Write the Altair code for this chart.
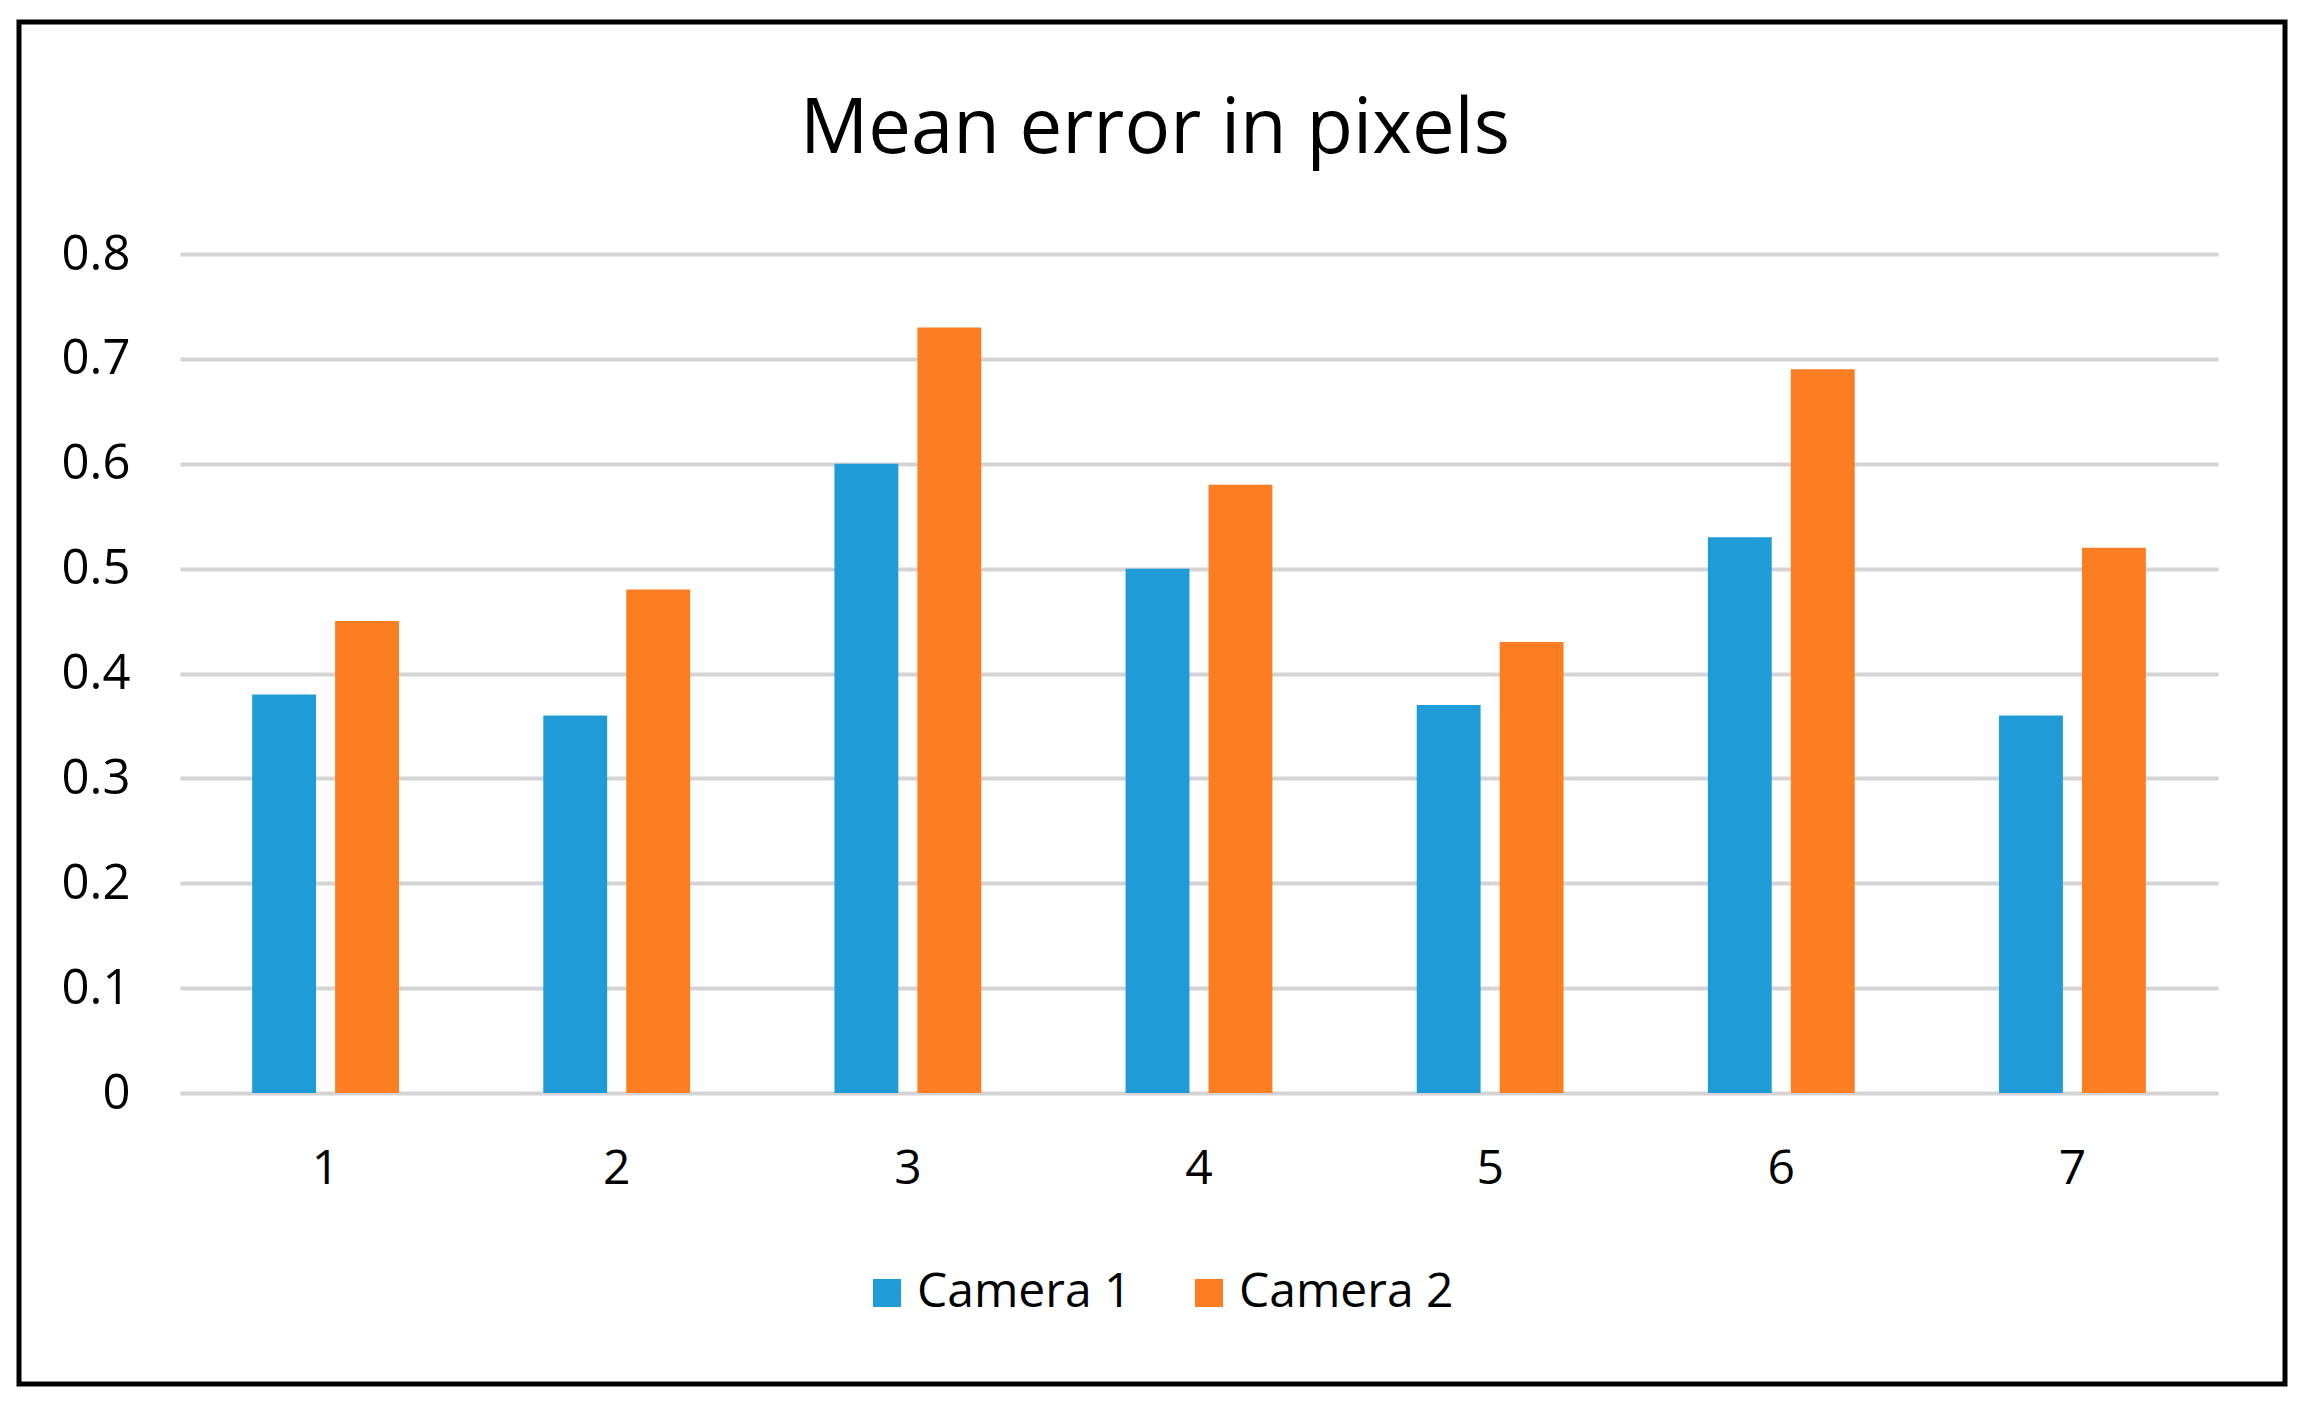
import altair as alt
import pandas as pd

categories = ["1", "2", "3", "4", "5", "6", "7"]
camera1 = [0.38, 0.36, 0.60, 0.50, 0.37, 0.53, 0.36]
camera2 = [0.45, 0.48, 0.73, 0.58, 0.43, 0.69, 0.52]
series_names = ["Camera 1", "Camera 2"]
series_colors = ["#1f9bd7", "#fd7d23"]
y_ticks = [0, 0.1, 0.2, 0.3, 0.4, 0.5, 0.6, 0.7, 0.8]
TITLE = "Mean error in pixels"

rows = []
for i, c in enumerate(categories):
    rows.append({"cat": c, "series": series_names[0], "value": camera1[i]})
    rows.append({"cat": c, "series": series_names[1], "value": camera2[i]})
df = pd.DataFrame(rows)

FONT = "Open Sans"
W, H = 2038, 839

bars = alt.Chart(df).mark_bar().encode(
    x=alt.X("cat:N", sort=categories, title=None,
            scale=alt.Scale(paddingInner=0, paddingOuter=0),
            axis=alt.Axis(labelAngle=0, domain=False, ticks=False, grid=False,
                          labelFontSize=48, labelFont=FONT, labelColor="#000000",
                          labelPadding=52)),
    xOffset=alt.XOffset("series:N", sort=series_names,
                        scale=alt.Scale(paddingInner=0.23, paddingOuter=0.87)),
    y=alt.Y("value:Q", title=None,
            scale=alt.Scale(domain=[0, 0.8], nice=False),
            axis=alt.Axis(values=y_ticks, format="~g", domain=False, ticks=False,
                          grid=True, gridColor="#d4d4d4", gridWidth=4,
                          labelFontSize=49, labelFont=FONT, labelColor="#000000",
                          labelPadding=50)),
    color=alt.Color("series:N", sort=series_names,
                    scale=alt.Scale(domain=series_names, range=series_colors),
                    legend=alt.Legend(title=None, orient="none", direction="horizontal",
                                      legendX=683, legendY=1015,
                                      symbolType="square", symbolSize=784,
                                      symbolStrokeWidth=0,
                                      labelFontSize=48, labelFont=FONT,
                                      labelColor="#000000", labelOffset=6,
                                      labelLimit=600,
                                      columnPadding=53, padding=0)),
)

one = pd.DataFrame({"t": [TITLE]})

title = alt.Chart(one).mark_text(
    fontSize=76, font=FONT, color="#000000", align="center", baseline="alphabetic"
).encode(text="t:N", x=alt.value(975), y=alt.value(-101))

border = alt.Chart(one).mark_rect(
    filled=False, stroke="#000000", strokeWidth=5
).encode(x=alt.value(-161), x2=alt.value(2105), y=alt.value(-232), y2=alt.value(1130))

chart = alt.layer(bars, title, border).properties(
    width=W, height=H, background="white",
    padding={"left": 8, "top": 11, "right": 5, "bottom": 5},
).configure_view(stroke=None)

chart.save("out.html", embed_options={"renderer": "svg", "actions": False})
